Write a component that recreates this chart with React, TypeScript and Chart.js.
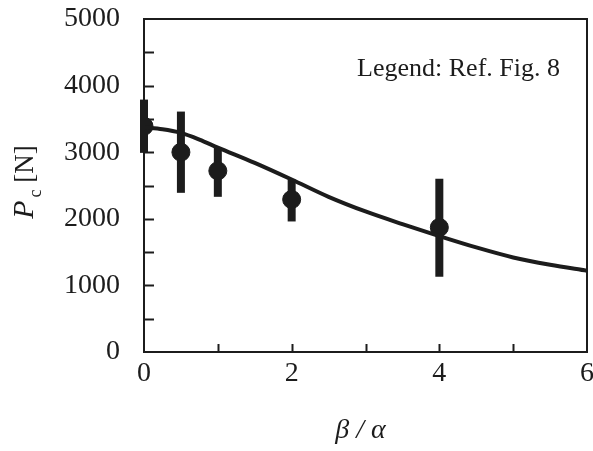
import React, { useEffect, useRef } from "react";
import { Chart, registerables } from "chart.js";

Chart.register(...registerables);

const pointX = [0, 0.5, 1, 2, 4];
const pointY = [3390, 3000, 2720, 2290, 1870];
const errLow = [2990, 2390, 2330, 1960, 1130];
const errHigh = [3790, 3610, 3070, 2590, 2600];

const curveX = [0, 0.25, 0.5, 0.75, 1, 1.5, 2, 2.5, 3, 3.5, 4, 4.5, 5, 5.5, 6];
const curveY = [3370, 3345, 3290, 3190, 3070, 2840, 2590, 2330, 2110, 1920, 1740, 1570, 1420, 1310, 1220];

const xTickValues = [0, 2, 4, 6];
const xTickLabels = ["0", "2", "4", "6"];
const yTickLabels = ["0", "1000", "2000", "3000", "4000", "5000"];
const legendText = "Legend: Ref. Fig. 8";

const INK = "#1c1c1c";
const SERIF = "'Liberation Serif', 'Times New Roman', serif";

export default function App() {
  const ref = useRef<HTMLCanvasElement | null>(null);
  useEffect(() => {
    if (!ref.current) return;
    const decor = {
      id: "decor",
      beforeDatasetsDraw(chart: any) {
        const ctx = chart.ctx;
        const xs = chart.scales.x;
        const ys = chart.scales.y;
        ctx.save();
        ctx.strokeStyle = INK;
        ctx.lineWidth = 8;
        ctx.lineCap = "butt";
        for (let i = 0; i < pointX.length; i++) {
          const px = xs.getPixelForValue(pointX[i]);
          ctx.beginPath();
          ctx.moveTo(px, ys.getPixelForValue(errLow[i]));
          ctx.lineTo(px, ys.getPixelForValue(errHigh[i]));
          ctx.stroke();
        }
        ctx.restore();
      },
      afterDraw(chart: any) {
        const ctx = chart.ctx;
        const a = chart.chartArea;
        const xs = chart.scales.x;
        const ys = chart.scales.y;
        ctx.save();
        ctx.strokeStyle = INK;
        ctx.lineWidth = 2;
        ctx.strokeRect(a.left, a.top, a.right - a.left, a.bottom - a.top);
        // inward ticks
        for (let v = 500; v < 5000; v += 500) {
          const py = Math.round(ys.getPixelForValue(v)) + 0.5;
          ctx.beginPath();
          ctx.moveTo(a.left, py);
          ctx.lineTo(a.left + 10, py);
          ctx.stroke();
        }
        for (let v = 1; v < 6; v += 1) {
          const px = Math.round(xs.getPixelForValue(v)) + 0.5;
          ctx.beginPath();
          ctx.moveTo(px, a.bottom);
          ctx.lineTo(px, a.bottom - 8);
          ctx.stroke();
        }
        ctx.fillStyle = INK;
        // x tick labels
        ctx.font = `28px ${SERIF}`;
        ctx.textAlign = "center";
        ctx.textBaseline = "alphabetic";
        xTickValues.forEach((v, i) => {
          ctx.fillText(xTickLabels[i], xs.getPixelForValue(v), a.bottom + 29);
        });
        // legend text
        ctx.font = `26px ${SERIF}`;
        ctx.textAlign = "right";
        ctx.fillText(legendText, 560, 76);
        // x title
        ctx.font = `italic 28px ${SERIF}`;
        ctx.textAlign = "center";
        ctx.fillText("\u03B2 / \u03B1", (a.left + a.right) / 2 - 5, 438);
        // y title
        ctx.translate(33, 182);
        ctx.rotate(-Math.PI / 2);
        const fP = `italic 30px ${SERIF}`;
        const fc = `18px ${SERIF}`;
        const fN = `27px ${SERIF}`;
        ctx.font = fP;
        const wP = ctx.measureText("P").width;
        ctx.font = fc;
        const wc = ctx.measureText("c").width;
        ctx.font = fN;
        const wN = ctx.measureText(" [N]").width;
        const total = wP + 3 + wc + wN;
        let x = -total / 2;
        ctx.textAlign = "left";
        ctx.font = fP;
        ctx.fillText("P", x, 0);
        x += wP + 3;
        ctx.font = fc;
        ctx.fillText("c", x, 8);
        x += wc;
        ctx.font = fN;
        ctx.fillText(" [N]", x, 0);
        ctx.restore();
      },
    };

    const chart = new Chart(ref.current, {
      type: "scatter",
      data: {
        datasets: [
          {
            type: "line",
            data: curveX.map((x, i) => ({ x, y: curveY[i] })),
            borderColor: INK,
            borderWidth: 4,
            pointRadius: 0,
            tension: 0.4,
            cubicInterpolationMode: "monotone",
            fill: false,
          } as any,
          {
            type: "scatter",
            data: pointX.map((x, i) => ({ x, y: pointY[i] })),
            backgroundColor: INK,
            borderColor: INK,
            pointRadius: 9,
            pointHoverRadius: 9,
          },
        ],
      },
      options: {
        animation: false,
        responsive: false,
        events: [],
        layout: { autoPadding: false, padding: { left: 0, right: 6, top: 19, bottom: 0 } },
        plugins: { legend: { display: false }, tooltip: { enabled: false } },
        scales: {
          x: {
            type: "linear",
            min: 0,
            max: 6,
            grid: { display: false, drawTicks: false },
            border: { display: false },
            ticks: { display: false, stepSize: 1 },
            afterFit: (s: any) => {
              s.height = 99;
            },
          },
          y: {
            type: "linear",
            min: 0,
            max: 5000,
            grid: { display: false, drawTicks: false },
            border: { display: false },
            ticks: {
              stepSize: 1000,
              padding: 24,
              color: INK,
              font: { family: SERIF, size: 28 },
              callback: (v: any) => yTickLabels[v / 1000],
            },
            afterFit: (s: any) => {
              s.width = 144;
              s.paddingTop = 0;
              s.paddingBottom = 0;
            },
          },
        },
      },
      plugins: [decor],
    } as any);
    return () => chart.destroy();
  }, []);
  return (
    <div style={{ position: "fixed", left: 0, top: 0, width: 593, height: 451, background: "#fff" }}>
      <canvas ref={ref} width={593} height={451} />
    </div>
  );
}
